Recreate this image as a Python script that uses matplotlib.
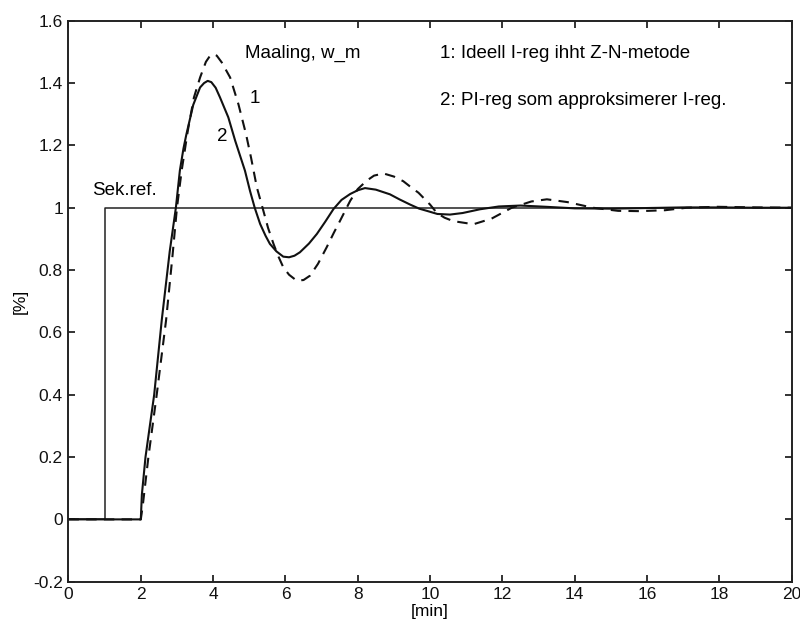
import matplotlib
matplotlib.use("Agg")
import matplotlib.pyplot as plt

plt.rcParams['font.family'] = ['Liberation Sans', 'DejaVu Sans']

# Reference step (Sek.ref.)
ref_t = [0, 1, 1, 20]
ref_v = [0, 0, 1, 1]

# Curve 2: PI-reg (solid)
t2 = [0, 2.0, 2.03, 2.13, 2.37, 2.58, 2.80, 2.97, 3.08, 3.18, 3.26, 3.45, 3.64,
      3.75, 3.85, 3.95, 4.07, 4.19, 4.42, 4.61, 4.88, 5.02, 5.15, 5.30, 5.45,
      5.57, 5.75, 5.94, 6.1, 6.25, 6.40, 6.65, 6.87, 7.1, 7.33, 7.55, 7.79,
      8.0, 8.2, 8.5, 8.89, 9.15, 9.45, 9.7, 9.91, 10.2, 10.55, 10.9, 11.38,
      11.9, 12.5, 13.2, 14.0, 15.0, 16.0, 17.0, 18.0, 19.0, 20.0]
v2 = [0, 0, 0.08, 0.2, 0.4, 0.64, 0.86, 1.0, 1.119, 1.19, 1.235, 1.33, 1.386,
      1.40, 1.407, 1.403, 1.385, 1.354, 1.29, 1.215, 1.119, 1.054, 1.0, 0.948,
      0.91, 0.884, 0.86, 0.843, 0.841, 0.846, 0.857, 0.885, 0.916, 0.955,
      0.996, 1.025, 1.044, 1.056, 1.063, 1.058, 1.043, 1.027, 1.01, 0.997,
      0.99, 0.98, 0.978, 0.983, 0.995, 1.004, 1.007, 1.003, 0.998, 0.997,
      0.999, 1.001, 1.001, 1.0, 1.0]

# Curve 1: ideal I-reg (dashed)
t1 = [0, 2.0, 2.06, 2.21, 2.44, 2.70, 2.88, 3.0, 3.13, 3.30, 3.47, 3.64, 3.8,
      3.9, 4.0, 4.1, 4.24, 4.47, 4.70, 4.91, 5.05, 5.21, 5.39, 5.52, 5.67,
      5.80, 5.94, 6.1, 6.31, 6.5, 6.68, 6.9, 7.14, 7.34, 7.51, 7.79, 8.0, 8.25,
      8.45, 8.71, 9.0, 9.26, 9.48, 9.68, 10.0, 10.19, 10.4, 10.64, 11.2, 11.7,
      12.26, 12.8, 13.23, 13.8, 14.5, 15.2, 15.8, 16.5, 17.1, 17.93, 19.0, 20.0]
v1 = [0, 0, 0.05, 0.2, 0.4, 0.64, 0.85, 1.0, 1.119, 1.247, 1.354, 1.418, 1.468,
      1.485, 1.493, 1.488, 1.466, 1.418, 1.332, 1.236, 1.16, 1.065, 0.99,
      0.935, 0.884, 0.845, 0.809, 0.785, 0.766, 0.768, 0.782, 0.82, 0.873,
      0.92, 0.958, 1.022, 1.06, 1.087, 1.103, 1.11, 1.1, 1.085, 1.065, 1.048,
      1.01, 0.983, 0.968, 0.957, 0.947, 0.965, 1.0, 1.02, 1.027, 1.018, 1.0,
      0.99, 0.989, 0.992, 1.0, 1.003, 1.001, 1.0]

xticks = [0, 2, 4, 6, 8, 10, 12, 14, 16, 18, 20]
yticks = [-0.2, 0, 0.2, 0.4, 0.6, 0.8, 1.0, 1.2, 1.4, 1.6]
ytick_labels = ['-0.2', '0', '0.2', '0.4', '0.6', '0.8', '1', '1.2', '1.4', '1.6']

fig = plt.figure(figsize=(8, 6.28), dpi=100)
ax = fig.add_axes([0.0856, 0.0737, 0.904, 0.8933])

ax.plot(ref_t, ref_v, color='#222222', lw=1.1)
ax.plot(t2, v2, color='#111111', lw=1.5, solid_joinstyle='round')
ax.plot(t1, v1, color='#111111', lw=1.5, dashes=(5, 3.5))

ax.set_xlim(0, 20)
ax.set_ylim(-0.2, 1.6)
ax.set_xticks(xticks)
ax.set_yticks(yticks)
ax.set_yticklabels(ytick_labels)
ax.tick_params(direction='in', length=5, width=1.2, top=True, right=True,
               labelsize=12.5, colors='#111111', pad=4)
for s in ax.spines.values():
    s.set_linewidth(1.4)
    s.set_color('#222222')

ax.set_xlabel('[min]', fontsize=12.5, labelpad=1)
ax.set_ylabel('[%]', fontsize=12.5, labelpad=4)

fs = 13.5
ax.text(4.88, 1.494, 'Maaling, w_m', fontsize=fs, va='center', ha='left')
ax.text(5.16, 1.35, '1', fontsize=fs, va='center', ha='center')
ax.text(4.25, 1.23, '2', fontsize=fs, va='center', ha='center')
ax.text(0.65, 1.055, 'Sek.ref.', fontsize=fs, va='center', ha='left')
ax.text(10.28, 1.494, '1: Ideell I-reg ihht Z-N-metode', fontsize=fs,
        va='center', ha='left')
ax.text(10.28, 1.343, '2: PI-reg som approksimerer I-reg.', fontsize=fs,
        va='center', ha='left')

fig.savefig('out.png', dpi=100)
